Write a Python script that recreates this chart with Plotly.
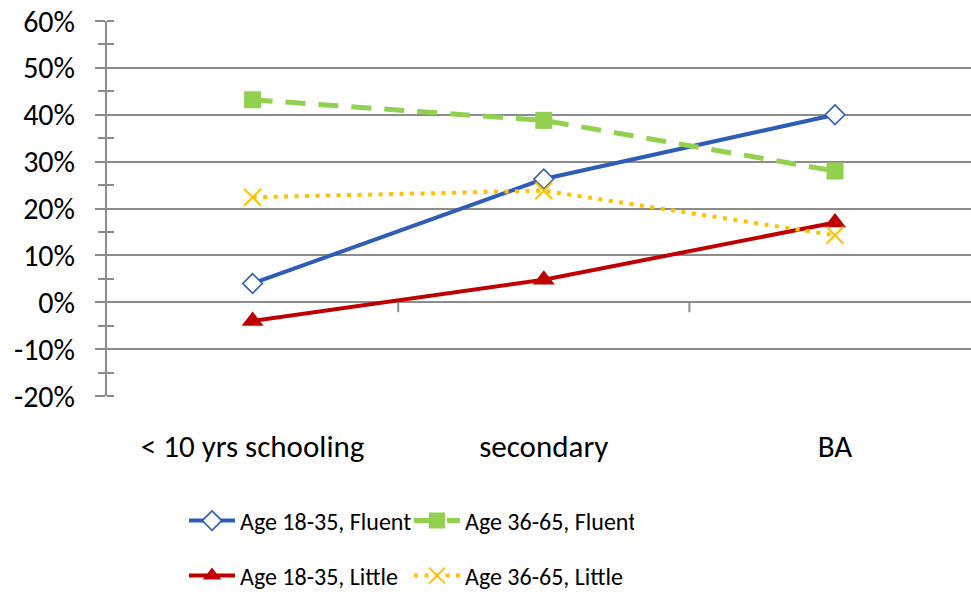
import plotly.graph_objects as go

categories = ["< 10 yrs schooling", "secondary", "BA"]
young_fluent = [4.0, 26.3, 40.0]
old_fluent = [43.2, 38.8, 28.0]
young_little = [-4.0, 4.8, 17.0]
old_little = [22.4, 23.8, 14.3]
y_ticks = [-20, -10, 0, 10, 20, 30, 40, 50, 60]
y_tick_text = [f"{v}%" for v in y_ticks]

FONT = "Carlito, Calibri, Lato, sans-serif"
GRID = "#8c8c8c"
xs = list(range(len(categories)))

W, H = 971, 594

fig = go.Figure()
fig.add_trace(go.Scatter(
    x=xs, y=young_fluent, name="Age 18-35, Fluent", mode="lines+markers",
    line=dict(color="#2E5DB5", width=4),
    marker=dict(symbol="diamond", size=15, color="white", line=dict(color="#2E5DB5", width=1.6)),
    legend="legend"))
fig.add_trace(go.Scatter(
    x=xs, y=old_fluent, name="Age 36-65, Fluent", mode="lines+markers",
    line=dict(color="#92D050", width=5, dash="20px,13px"),
    marker=dict(symbol="square", size=17, color="#92D050"),
    legend="legend"))
fig.add_trace(go.Scatter(
    x=xs, y=young_little, name="Age 18-35, Little", mode="lines+markers",
    line=dict(color="#C00000", width=4),
    marker=dict(symbol="triangle-up", size=19, color="#C00000"),
    legend="legend2"))
fig.add_trace(go.Scatter(
    x=xs, y=old_little, name="Age 36-65, Little", mode="lines+markers",
    line=dict(color="#FFC000", width=4, dash="4px,6.5px"),
    marker=dict(symbol="x-thin-open", size=17, color="#FFC000", line=dict(color="#FFC000", width=2)),
    legend="legend2"))
# invisible trace for overlay axis (minor ticks crossing the axis line)
fig.add_trace(go.Scatter(x=[0], y=[0], yaxis="y2", mode="markers",
                         marker=dict(opacity=0), showlegend=False, hoverinfo="skip"))

for i in range(len(categories) - 1):
    fig.add_shape(type="line", xref="x", yref="y", x0=i + 0.5, x1=i + 0.5,
                  ysizemode="pixel", yanchor=0, y0=0, y1=-10,
                  line=dict(color=GRID, width=2))

legend_common = dict(
    orientation="h", xref="container", yref="container", x=184 / W,
    xanchor="left", yanchor="middle", font=dict(size=24), itemwidth=46,
    entrywidth=164, bgcolor="rgba(0,0,0,0)", tracegroupgap=0,
)

fig.update_layout(
    width=W, height=H,
    margin=dict(l=107, r=0, t=21, b=H - 396, autoexpand=False),
    paper_bgcolor="white", plot_bgcolor="white",
    font=dict(family=FONT, size=30, color="black"),
    xaxis=dict(
        range=[-0.5, 2.467], tickmode="array", tickvals=xs, ticktext=categories,
        showgrid=False, zeroline=False, showline=False, ticks="",
        ticklabelstandoff=29, tickfont=dict(size=31), automargin=False,
    ),
    yaxis=dict(
        range=[-20, 60], tickmode="array", tickvals=y_ticks, ticktext=y_tick_text,
        showgrid=True, gridcolor=GRID, gridwidth=2,
        zeroline=True, zerolinecolor=GRID, zerolinewidth=2,
        showline=True, linecolor=GRID, linewidth=2,
        ticks="outside", ticklen=10, tickcolor=GRID, tickwidth=2,
        minor=dict(dtick=5, tick0=0, ticks="outside", ticklen=7, tickcolor=GRID, tickwidth=2, showgrid=False),
        ticklabelstandoff=14, tickfont=dict(size=30), automargin=False,
    ),
    yaxis2=dict(
        range=[-20, 60], overlaying="y", side="left", showgrid=False, zeroline=False,
        showticklabels=False, showline=False,
        tickmode="array", tickvals=[],
        minor=dict(dtick=5, tick0=0, ticks="inside", ticklen=7, tickcolor=GRID, tickwidth=2, showgrid=False),
    ),
    legend=dict(y=1 - 521 / H, **legend_common),
    legend2=dict(y=1 - 576 / H, **legend_common),
    showlegend=True,
)

# remove the browser's default 8px body margin so the figure fills the window
fig.write_html("out.html", config={"displayModeBar": False},
               post_script="document.body.style.margin='0px';")
